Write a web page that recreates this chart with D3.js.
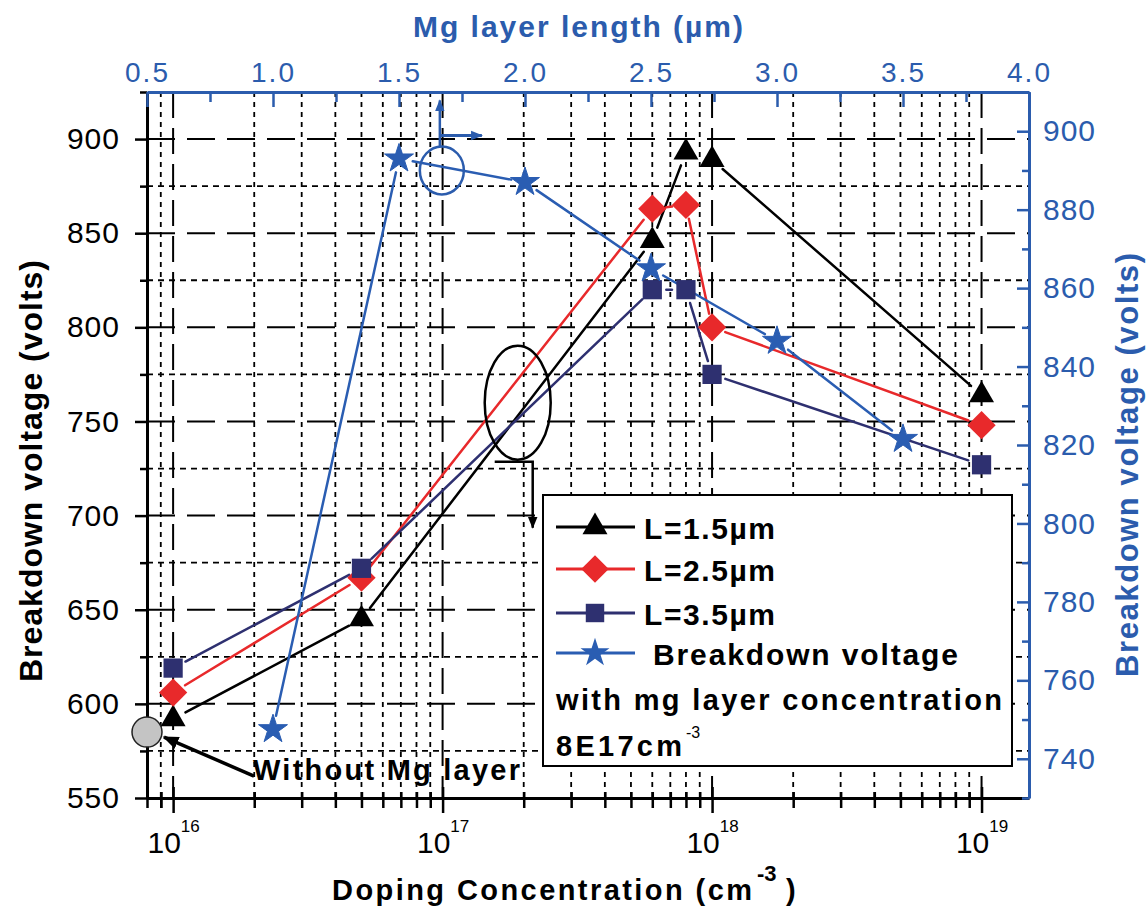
<!DOCTYPE html>
<html><head><meta charset="utf-8">
<script src="https://cdn.jsdelivr.net/npm/d3@7"></script>
<style>body{margin:0;background:#fff}svg{display:block}</style>
</head><body>
<svg id="c" width="1147" height="909"></svg>
<script>
// ---------------- data ----------------
const dopingLevels = [1e16, 5e16, 6e17, 8e17, 1e18, 1e19];
const bvL15 = [592, 645, 846, 893, 889, 764];
const bvL25 = [606, 667, 863, 865, 800, 748];
const bvL35 = [619, 672, 820, 820, 775, 727];
const mgLengths = [1.0, 1.5, 2.0, 2.5, 3.0, 3.5];
const bvMgLength = [747.5, 893, 887, 865, 846.5, 821.5];
const noMgDoping = [8e15];
const noMgBV = [585];

const leftTicks = [550, 600, 650, 700, 750, 800, 850, 900];
const leftMinor = [575, 625, 675, 725, 775, 825, 875];
const rightTicks = [740, 760, 780, 800, 820, 840, 860, 880, 900];
const rightMinor = [730, 750, 770, 790, 810, 830, 850, 870, 890, 910];
const topTicks = [0.5, 1.0, 1.5, 2.0, 2.5, 3.0, 3.5, 4.0];
const topMinor = [0.75, 1.25, 1.75, 2.25, 2.75, 3.25, 3.75];
const bottomTicks = [1e16, 1e17, 1e18, 1e19];
const bottomExponents = ["16", "17", "18", "19"];
const legendLabels = ["L=1.5\u00b5m", "L=2.5\u00b5m", "L=3.5\u00b5m", "Breakdown voltage"];

// ---------------- setup ----------------
const FONT = "'Liberation Sans', Arial, Helvetica, sans-serif";
const BLUE = "#2b5cad";
const RED = "#e8292b";
const NAVY = "#2e3070";
const STAR = "#2a5db2";

const L = 147, R = 1029, T = 92, B = 798;
const x = d3.scaleLog().domain([8e15, 1.5e19]).range([L, R]);
const xTop = d3.scaleLinear().domain([0.5, 4.0]).range([L, R]);
const yL = d3.scaleLinear().domain([550, 925]).range([B, T]);
const yR = d3.scaleLinear().domain([730, 910]).range([B, T]);

const svg = d3.select("#c").attr("font-family", FONT);

// ---------------- grid ----------------
const grid = svg.append("g");
const minorX = [];
for (let d = 15; d <= 19; d++) for (let m = 2; m <= 9; m++) {
  const v = m * Math.pow(10, d);
  if (v > 8.5e15 && v < 1.5e19) minorX.push(v);
}
grid.selectAll(".vmin").data(minorX).join("line")
  .attr("x1", d => x(d)).attr("x2", d => x(d)).attr("y1", T).attr("y2", B)
  .attr("stroke", "#000").attr("stroke-width", 1.8).attr("stroke-dasharray", "5,5");
grid.selectAll(".vmaj").data(bottomTicks).join("line")
  .attr("x1", d => x(d)).attr("x2", d => x(d)).attr("y1", T).attr("y2", B)
  .attr("stroke", "#000").attr("stroke-width", 2).attr("stroke-dasharray", "26,10");
grid.selectAll(".hmin").data(leftMinor).join("line")
  .attr("x1", L).attr("x2", R).attr("y1", d => yL(d)).attr("y2", d => yL(d))
  .attr("stroke", "#000").attr("stroke-width", 1.8).attr("stroke-dasharray", "6,5");
grid.selectAll(".hmaj").data(leftTicks.filter(v => v > 550)).join("line")
  .attr("x1", L).attr("x2", R).attr("y1", d => yL(d)).attr("y2", d => yL(d))
  .attr("stroke", "#000").attr("stroke-width", 2).attr("stroke-dasharray", "28,12");

// ---------------- axes ----------------
function styleAxis(g, color, fs, ls) {
  g.select(".domain").attr("stroke", color).attr("stroke-width", 3);
  g.selectAll(".tick line").attr("stroke", color).attr("stroke-width", 2.5);
  g.selectAll(".tick text").attr("font-size", fs).attr("fill", color)
    .attr("font-family", FONT).attr("letter-spacing", ls);
}
function noDomain(g) { g.select(".domain").remove(); }

// bottom
svg.append("g").attr("transform", `translate(0,${B})`)
  .call(d3.axisBottom(x).tickValues(minorX.concat([8e15, 9e15])).tickSize(10).tickSizeOuter(0).tickFormat(""))
  .call(noDomain).call(g => { styleAxis(g, "#000", 0, 0); g.selectAll(".tick line").attr("y1", -6); });
const bAx = svg.append("g").attr("transform", `translate(0,${B})`)
  .call(d3.axisBottom(x).tickValues(bottomTicks).tickSize(15).tickSizeOuter(0).tickFormat(""))
  .call(g => { styleAxis(g, "#000", 0, 0); g.selectAll(".tick line").attr("y1", -11); });
bAx.selectAll(".tick").each(function (d, i) {
  const t = d3.select(this).append("text").attr("y", 55).attr("text-anchor", "middle")
    .attr("fill", "#000").attr("font-size", 30).attr("font-family", FONT);
  t.append("tspan").text("10");
  t.append("tspan").attr("dy", -21).attr("font-size", 17).text(bottomExponents[i]);
});

// left
svg.append("g").attr("transform", `translate(${L},0)`)
  .call(d3.axisLeft(yL).tickValues(leftMinor.concat([925])).tickSize(7).tickSizeOuter(0).tickFormat(""))
  .call(noDomain).call(g => styleAxis(g, "#000", 0, 0));
svg.append("g").attr("transform", `translate(${L},0)`)
  .call(d3.axisLeft(yL).tickValues(leftTicks).tickSize(12).tickSizeOuter(0).tickPadding(15).tickFormat(d3.format("d")))
  .call(g => styleAxis(g, "#000", 30, 1));

// top
svg.append("g").attr("transform", `translate(0,${T})`)
  .call(d3.axisTop(xTop).tickValues(topMinor).tickSize(-10).tickSizeOuter(0).tickFormat(""))
  .call(noDomain).call(g => styleAxis(g, BLUE, 0, 0));
svg.append("g").attr("transform", `translate(0,${T})`)
  .call(d3.axisTop(xTop).tickValues(topTicks).tickSize(-15).tickSizeOuter(0).tickPadding(10).tickFormat(d3.format(".1f")))
  .call(g => styleAxis(g, BLUE, 28, 2));

// right
svg.append("g").attr("transform", `translate(${R},0)`)
  .call(d3.axisRight(yR).tickValues(rightMinor).tickSize(-7).tickSizeOuter(0).tickFormat(""))
  .call(noDomain).call(g => styleAxis(g, BLUE, 0, 0));
svg.append("g").attr("transform", `translate(${R},0)`)
  .call(d3.axisRight(yR).tickValues(rightTicks).tickSize(-12).tickSizeOuter(0).tickPadding(14).tickFormat(d3.format("d")))
  .call(g => styleAxis(g, BLUE, 30, 1));

// axis titles
svg.append("text").attr("transform", `translate(42,471) rotate(-90)`).attr("text-anchor", "middle")
  .attr("font-size", 32).attr("font-weight", "bold").attr("fill", "#000")
  .attr("textLength", 422).text("Breakdown voltage (volts)");
svg.append("text").attr("transform", `translate(1138,465) rotate(-90)`).attr("text-anchor", "middle")
  .attr("font-size", 31).attr("font-weight", "bold").attr("fill", BLUE)
  .attr("textLength", 424).text("Breakdown voltage (volts)");
svg.append("text").attr("x", 413).attr("y", 37)
  .attr("font-size", 30).attr("font-weight", "bold").attr("fill", BLUE)
  .attr("textLength", 330).text("Mg layer length (\u00b5m)");
svg.append("text").attr("x", 332).attr("y", 900)
  .attr("font-size", 29).attr("font-weight", "bold").attr("fill", "#000")
  .attr("textLength", 420).text("Doping Concentration (cm");
svg.append("text").attr("x", 757).attr("y", 881)
  .attr("font-size", 22).attr("font-weight", "bold").attr("fill", "#000").text("-3");
svg.append("text").attr("x", 786).attr("y", 900)
  .attr("font-size", 29).attr("font-weight", "bold").attr("fill", "#000").text(")");

// ---------------- series ----------------
const GAP = 14;
function gappedLines(g, pts, color, w) {
  for (let i = 0; i < pts.length - 1; i++) {
    const [x1, y1] = pts[i], [x2, y2] = pts[i + 1];
    const dx = x2 - x1, dy = y2 - y1, len = Math.hypot(dx, dy);
    if (len <= 2 * GAP) continue;
    const ux = dx / len, uy = dy / len;
    g.append("line")
      .attr("x1", x1 + ux * GAP).attr("y1", y1 + uy * GAP)
      .attr("x2", x2 - ux * GAP).attr("y2", y2 - uy * GAP)
      .attr("stroke", color).attr("stroke-width", w).attr("stroke-linecap", "round");
  }
}
const symTri = d3.symbol(d3.symbolTriangle, 270);
const symDia = d3.symbol(d3.symbolSquare, 400);
const symSq = d3.symbol(d3.symbolSquare, 370);
const symStar = d3.symbol(d3.symbolStar, 260);

const seriesDefs = [
  { vals: bvL15, color: "#000", sym: symTri, rot: 0, w: 2.5 },
  { vals: bvL25, color: RED, sym: symDia, rot: 45, w: 2.5 },
  { vals: bvL35, color: NAVY, sym: symSq, rot: 0, w: 2.5 }
];
const dataG = svg.append("g");
seriesDefs.forEach(s => {
  const pts = dopingLevels.map((d, i) => [x(d), yL(s.vals[i])]);
  gappedLines(dataG, pts, s.color, s.w);
});
const starPts = mgLengths.map((d, i) => [xTop(d), yR(bvMgLength[i])]);
gappedLines(dataG, starPts, STAR, 2.5);

seriesDefs.forEach(s => {
  dataG.selectAll(null).data(dopingLevels).join("path")
    .attr("d", s.sym)
    .attr("transform", (d, i) => `translate(${x(d)},${yL(s.vals[i])}) rotate(${s.rot})`)
    .attr("fill", s.color);
});
dataG.selectAll(null).data(mgLengths).join("path")
  .attr("d", symStar)
  .attr("transform", (d, i) => `translate(${xTop(d)},${yR(bvMgLength[i])})`)
  .attr("fill", STAR).attr("stroke", STAR).attr("stroke-width", 1).attr("stroke-linejoin", "round");

// ---------------- annotations ----------------
const defs = svg.append("defs");
function arrowMarker(id, color, size) {
  defs.append("marker").attr("id", id).attr("viewBox", "0 0 10 10").attr("refX", 9).attr("refY", 5)
    .attr("markerWidth", size).attr("markerHeight", size).attr("markerUnits", "userSpaceOnUse")
    .attr("orient", "auto")
    .append("path").attr("d", "M0,1 L10,5 L0,9 Z").attr("fill", color);
}
arrowMarker("arB", "#000", 16);
arrowMarker("arK", "#000", 12);
arrowMarker("arU", BLUE, 12);

// without Mg layer reference point
const nx = x(noMgDoping[0]), ny = yL(noMgBV[0]);
svg.append("line").attr("x1", nx + 107).attr("y1", ny + 44).attr("x2", nx + 17).attr("y2", ny + 5)
  .attr("stroke", "#000").attr("stroke-width", 3.5).attr("marker-end", "url(#arB)");
svg.append("circle").attr("cx", nx).attr("cy", ny).attr("r", 15)
  .attr("fill", "#c4c4c4").attr("stroke", "#222").attr("stroke-width", 1.5);
svg.append("text").attr("x", nx + 106).attr("y", ny + 48)
  .attr("font-size", 29).attr("font-weight", "bold").attr("fill", "#000")
  .attr("textLength", 267).text("Without Mg layer");

// black ellipse marking the L series
const ex = x(1.9e17), ey = yL(760);
svg.append("ellipse").attr("cx", ex).attr("cy", ey).attr("rx", 33).attr("ry", 57)
  .attr("fill", "none").attr("stroke", "#000").attr("stroke-width", 2.5);
svg.append("path").attr("d", `M${ex - 23},${ey + 59} H${ex + 15} V${ey + 125}`)
  .attr("fill", "none").attr("stroke", "#000").attr("stroke-width", 2.5).attr("marker-end", "url(#arK)");

// blue circle marking the star series
const cx2 = xTop(1.67), cy2 = yR(890);
svg.append("ellipse").attr("cx", cx2).attr("cy", cy2).attr("rx", 22).attr("ry", 24)
  .attr("fill", "none").attr("stroke", BLUE).attr("stroke-width", 2.5);
svg.append("path").attr("d", `M${cx2 - 2},${cy2 - 24} V${cy2 - 70}`)
  .attr("fill", "none").attr("stroke", BLUE).attr("stroke-width", 2.5).attr("marker-end", "url(#arU)");
svg.append("path").attr("d", `M${cx2 - 2},${cy2 - 35} H${cx2 + 40}`)
  .attr("fill", "none").attr("stroke", BLUE).attr("stroke-width", 3).attr("marker-end", "url(#arU)");

// ---------------- legend ----------------
const lg = svg.append("g").attr("transform", "translate(543,495)");
lg.append("rect").attr("width", 469).attr("height", 271).attr("fill", "#fff")
  .attr("stroke", "#000").attr("stroke-width", 2);
const legendDefs = [
  { color: "#000", sym: symTri, rot: 0, w: 2.8 },
  { color: RED, sym: d3.symbol(d3.symbolSquare, 380), rot: 45, w: 2.8 },
  { color: NAVY, sym: d3.symbol(d3.symbolSquare, 340), rot: 0, w: 2.8 },
  { color: STAR, sym: symStar, rot: 0, w: 2.8 }
];
const rowY = [32, 74, 118, 158];
const textW = [131, 131, 131, 305];
legendDefs.forEach((s, i) => {
  lg.append("line").attr("x1", 13).attr("x2", 92).attr("y1", rowY[i]).attr("y2", rowY[i])
    .attr("stroke", s.color).attr("stroke-width", s.w);
  lg.append("path").attr("d", s.sym).attr("transform", `translate(52,${rowY[i]}) rotate(${s.rot})`).attr("fill", s.color);
  lg.append("text").attr("x", i === 3 ? 110 : 101).attr("y", rowY[i] + 12)
    .attr("font-size", 30).attr("font-weight", "bold").attr("fill", "#000")
    .attr("textLength", textW[i]).text(legendLabels[i]);
});
lg.append("text").attr("x", 13).attr("y", 215)
  .attr("font-size", 29).attr("font-weight", "bold").attr("fill", "#000")
  .attr("textLength", 446).text("with mg layer concentration");
lg.append("text").attr("x", 13).attr("y", 261)
  .attr("font-size", 29).attr("font-weight", "bold").attr("fill", "#000")
  .attr("textLength", 126).text("8E17cm");
lg.append("text").attr("x", 143).attr("y", 243)
  .attr("font-size", 16).attr("fill", "#000").text("-3");
</script>
</body></html>
